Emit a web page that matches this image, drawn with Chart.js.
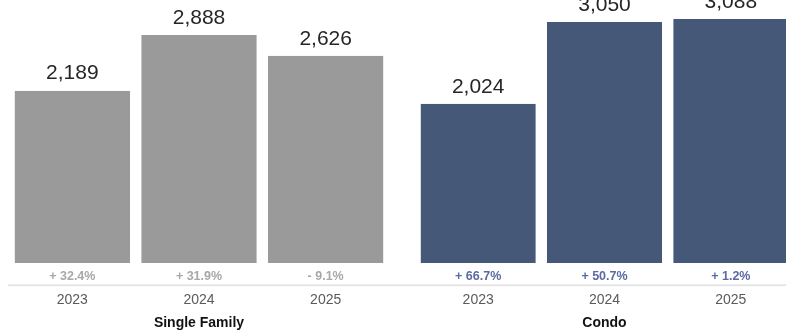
<!DOCTYPE html>
<html>
<head>
<meta charset="utf-8">
<script src="https://cdn.jsdelivr.net/npm/chart.js@4.4.1/dist/chart.umd.min.js"></script>
<style>
  html, body { margin: 0; padding: 0; background: #fff; }
  body { width: 786px; height: 332px; overflow: hidden; position: relative; }
  .panel { position: absolute; top: 0; height: 332px; width: 400px; }
  #left { left: 0; }
  #right { left: 400px; }
</style>
</head>
<body>
<div class="panel" id="left"><canvas id="chartSingle"></canvas></div>
<div class="panel" id="right"><canvas id="chartCondo"></canvas></div>
<script>
var years = ['2023', '2024', '2025'];
var singleFamily = [2189, 2888, 2626];
var condo = [2024, 3050, 3088];
var singleFamilyChange = [32.4, 31.9, -9.1];
var condoChange = [66.7, 50.7, 1.2];

var FONT = '"Liberation Sans", Arial, Helvetica, sans-serif';

function fmtChange(v) {
    return (v < 0 ? '- ' : '+ ') + Math.abs(v).toFixed(1) + '%';
}

// value on top of each bar, % change just above the baseline rule, and the rule itself
var barLabels = {
    id: 'barLabels',
    afterDatasetsDraw: function (chart, args, opts) {
        var c = chart.ctx;
        var meta = chart.getDatasetMeta(0);
        var values = chart.data.datasets[0].data;
        var area = chart.chartArea;
        c.save();
        c.textAlign = 'center';
        c.textBaseline = 'middle';
        meta.data.forEach(function (bar, i) {
            c.fillStyle = '#262626';
            c.font = '21px ' + FONT;
            c.fillText(values[i].toLocaleString('en-US'), bar.x, bar.y - 17);
            c.fillStyle = opts.changeColor;
            c.font = 'bold 12.5px ' + FONT;
            c.fillText(fmtChange(opts.changes[i]), bar.x, bar.base + 11);
        });
        c.strokeStyle = '#e0e0e0';
        c.lineWidth = 1.5;
        c.beginPath();
        c.moveTo(opts.lineStart, area.bottom);
        c.lineTo(chart.width, area.bottom);
        c.stroke();
        c.restore();
    }
};

function makeChart(id, title, values, changes, barColor, changeColor, padLeft, padRight, lineStart) {
    return new Chart(document.getElementById(id), {
        type: 'bar',
        data: {
            labels: years,
            datasets: [{
                data: values,
                backgroundColor: barColor,
                borderColor: '#ffffff',
                borderWidth: { top: 0, left: 0, right: 0, bottom: 2 },
                borderSkipped: false,
                barPercentage: 1,
                categoryPercentage: 0.912
            }]
        },
        options: {
            responsive: true,
            maintainAspectRatio: false,
            animation: false,
            layout: { padding: { left: padLeft, right: padRight, top: 0, bottom: 0 } },
            plugins: {
                legend: { display: false },
                tooltip: { enabled: false },
                barLabels: { changes: changes, changeColor: changeColor, lineStart: lineStart }
            },
            scales: {
                y: { display: false, min: -252, max: 3326 },
                x: {
                    grid: { display: false, drawTicks: false },
                    border: { display: false },
                    ticks: { color: '#5a5a5a', padding: 8, font: { family: FONT, size: 14, lineHeight: 1.0 } },
                    title: {
                        display: true,
                        text: title,
                        color: '#111',
                        padding: { top: 0, bottom: 0 },
                        font: { family: FONT, size: 14, weight: 'bold' }
                    }
                }
            }
        },
        plugins: [barLabels]
    });
}

makeChart('chartSingle', 'Single Family', singleFamily, singleFamilyChange, '#9a9a9a', '#a8a8a8', 9, 11, 8);
makeChart('chartCondo', 'Condo', condo, condoChange, '#465877', '#5b6ba3', 15, 6, 0);
</script>
</body>
</html>
